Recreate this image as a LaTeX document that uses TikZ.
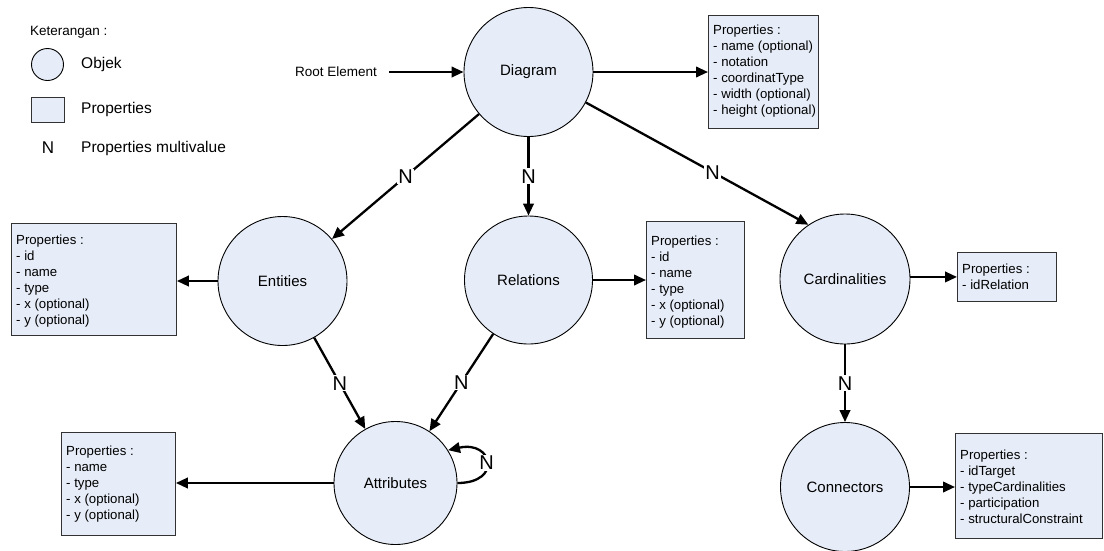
\documentclass[tikz,border=0pt]{standalone}
\usepackage{fontspec}
\setmainfont{Liberation Sans}
\usetikzlibrary{arrows.meta,calc}
\definecolor{objfill}{RGB}{231,237,248}
\definecolor{boxline}{RGB}{50,50,50}
\begin{document}
\begin{tikzpicture}[x=1pt,y=-1pt,
  obj/.style={circle,draw=black,line width=0.9pt,fill=objfill,inner sep=0pt,minimum size=129pt,font=\fontsize{15}{18}\selectfont},
  props/.style={rectangle,draw=boxline,line width=0.9pt,fill=objfill,anchor=north west,inner sep=0pt},
  ptext/.style={anchor=west,inner sep=0pt,align=left,font=\fontsize{13.2}{16}\selectfont},
  link/.style={line width=2.3pt,-{Triangle[length=12pt,width=10.5pt]}},
  mult/.style={fill=white,inner sep=1pt,font=\fontsize{20}{22}\selectfont},
  txt/.style={inner sep=0pt,anchor=west,font=\fontsize{13.5}{16}\selectfont},
  legtxt/.style={inner sep=0pt,anchor=west,font=\fontsize{15.5}{18}\selectfont}]
\useasboundingbox (0,0) rectangle (1104,550);

% legend
\node[txt] (leg) at (30,32) {Keterangan :};
\node[obj,minimum size=32pt] (legobj) at (47.5,64.5) {};
\node[rectangle,draw=boxline,line width=0.9pt,fill=objfill,minimum width=33pt,minimum height=25pt] (legbox) at (47.5,109.5) {};
\node[inner sep=0pt,font=\fontsize{17}{20}\selectfont] (legn) at (48,148) {N};
\node[legtxt] (legobjt) at (81,64.5) {Objek};
\node[legtxt] (legboxt) at (81,109) {Properties};
\node[legtxt] (legnt) at (81,148) {Properties multivalue};

% objects
\node[obj] (D) at (528.5,72) {Diagram};
\node[obj] (E) at (282.5,281) {Entities};
\node[obj,minimum size=128pt] (R) at (528.5,280) {Relations};
\node[obj,minimum size=130pt] (C) at (845,279) {Cardinalities};
\node[obj,minimum size=123pt] (A) at (395.5,483) {Attributes};
\node[obj] (K) at (845,487) {Connectors};

% properties boxes
\node[props,minimum width=110pt,minimum height=113pt] (PD) at (708,15) {};
\node[props,minimum width=165pt,minimum height=112pt] (PE) at (11,223) {};
\node[props,minimum width=98pt,minimum height=117pt] (PR) at (646,221) {};
\node[props,minimum width=99pt,minimum height=49pt] (PC) at (957,252) {};
\node[props,minimum width=114pt,minimum height=103pt] (PA) at (61,432) {};
\node[props,minimum width=147pt,minimum height=105pt] (PK) at (955,433) {};

% properties texts
\node[ptext] (PDt) at ([xshift=5pt,yshift=1pt]PD.west)
  {Properties :\\- name (optional)\\- notation\\- coordinatType\\- width (optional)\\- height (optional)};
\node[ptext] (PEt) at ([xshift=5pt,yshift=-2pt]PE.west)
  {Properties :\\- id\\- name\\- type\\- x (optional)\\- y (optional)};
\node[ptext] (PRt) at ([xshift=5pt,yshift=-2pt]PR.west)
  {Properties :\\- id\\- name\\- type\\- x (optional)\\- y (optional)};
\node[ptext] (PCt) at ([xshift=5pt]PC.west)
  {Properties :\\- idRelation};
\node[ptext] (PAt) at ([xshift=5pt]PA.west)
  {Properties :\\- name\\- type\\- x (optional)\\- y (optional)};
\node[ptext] (PKt) at ([xshift=5pt,yshift=-1pt]PK.west)
  {Properties :\\- idTarget\\- typeCardinalities\\- participation\\- structuralConstraint};

% root
\node[txt] (root) at (295,72) {Root Element};
\draw[link,shorten <=12pt] (root.east) -- (D.west);

% connectors
\draw[link] (D.east) -- (D.east -| PD.west);
\draw[link] (D) -- node[mult] {N} (E);
\draw[link] (D.south) -- node[mult] {N} (R.north);
\draw[link] (D.-28.5) -- node[mult,pos=0.57] {N} (C.124.6);
\draw[link] (E.west) -- (E.west -| PE.east);
\draw[link] (R.east) -- (R.east -| PR.west);
\draw[link] (PC.west -| C.east) -- (PC.west);
\draw[link] (E) -- node[mult] {N} (A);
\draw[link] (R) -- node[mult] {N} (A);
\draw[link] (C.south) -- node[mult] {N} (K.north);
\draw[link] (A.west) -- (A.west -| PA.east);
\draw[link] (K.east) -- (K.east -| PK.west);
\draw[link] (A.0) .. controls +(45,0) and +(45,-10) .. node[mult,pos=0.5] {N} (A.32);
\end{tikzpicture}
\end{document}
